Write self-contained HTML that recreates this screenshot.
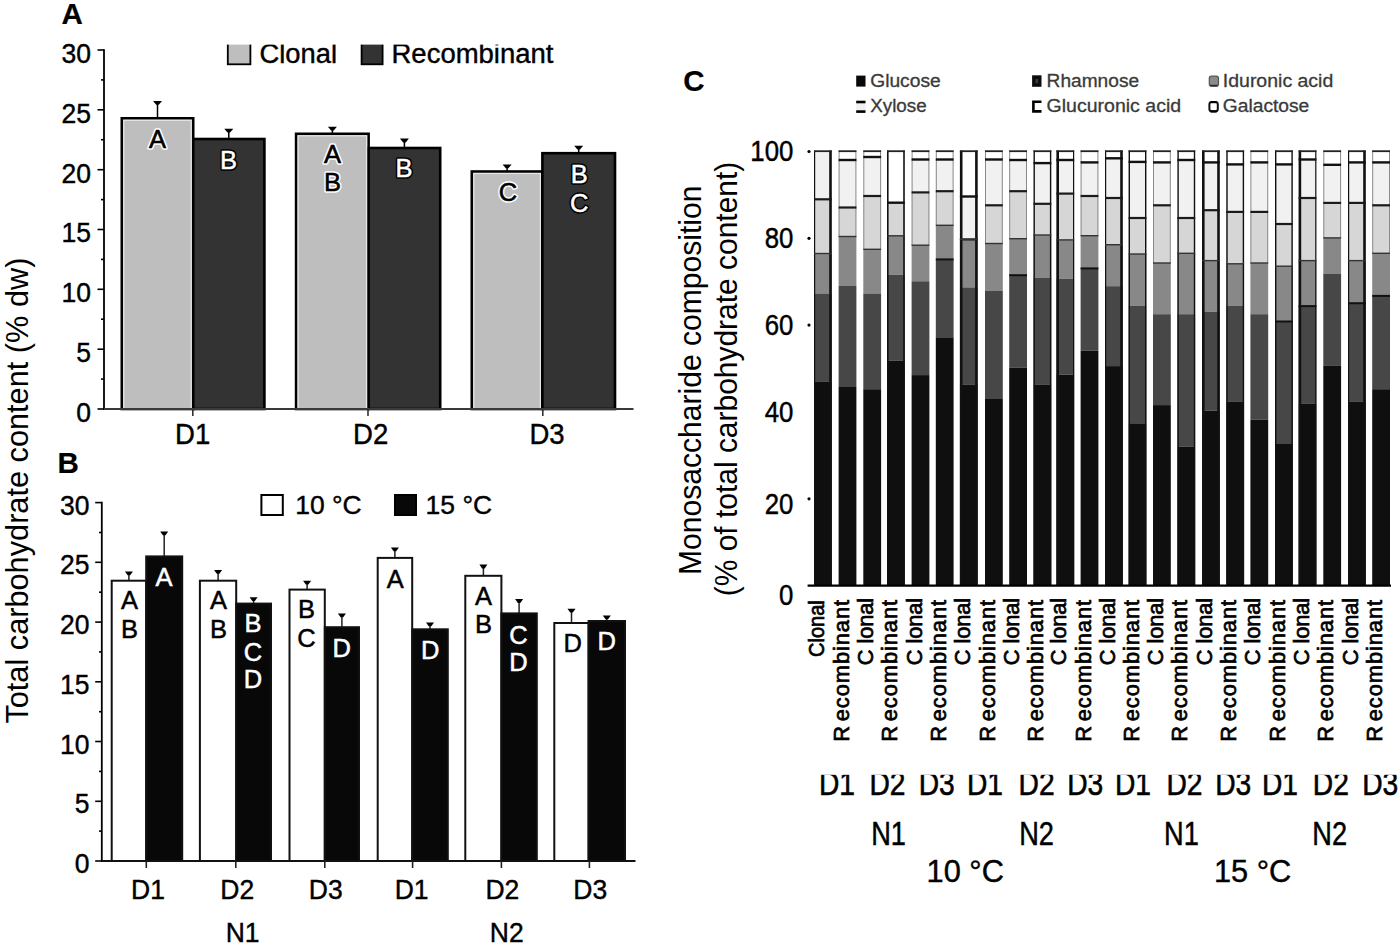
<!DOCTYPE html>
<html><head><meta charset="utf-8"><style>
html,body{margin:0;padding:0;background:#fff;}
svg{display:block;font-family:"Liberation Sans", sans-serif;}
text{font-family:"Liberation Sans", sans-serif;}
</style></head><body>
<svg width="1398" height="944" viewBox="0 0 1398 944">
<rect x="0" y="0" width="1398" height="944" fill="#fff"/>
<text x="61.6" y="24.2" font-size="29.5" text-anchor="start" font-weight="bold" fill="#000" stroke="#000" stroke-width="0.2" >A</text>
<line x1="104.0" y1="49.2" x2="104.0" y2="409.9" stroke="#000" stroke-width="1.8"/>
<line x1="97.5" y1="409.0" x2="104.0" y2="409.0" stroke="#000" stroke-width="1.6"/>
<text transform="translate(91.0,421.9) scale(1.0,1.06)" font-size="26.5" text-anchor="end" fill="#000" stroke="#000" stroke-width="0.4">0</text>
<line x1="101.0" y1="379.1" x2="104.0" y2="379.1" stroke="#000" stroke-width="1.6"/>
<line x1="97.5" y1="349.2" x2="104.0" y2="349.2" stroke="#000" stroke-width="1.6"/>
<text transform="translate(91.0,362.1) scale(1.0,1.06)" font-size="26.5" text-anchor="end" fill="#000" stroke="#000" stroke-width="0.4">5</text>
<line x1="101.0" y1="319.2" x2="104.0" y2="319.2" stroke="#000" stroke-width="1.6"/>
<line x1="97.5" y1="289.3" x2="104.0" y2="289.3" stroke="#000" stroke-width="1.6"/>
<text transform="translate(91.0,302.2) scale(1.0,1.06)" font-size="26.5" text-anchor="end" fill="#000" stroke="#000" stroke-width="0.4">10</text>
<line x1="101.0" y1="259.4" x2="104.0" y2="259.4" stroke="#000" stroke-width="1.6"/>
<line x1="97.5" y1="229.5" x2="104.0" y2="229.5" stroke="#000" stroke-width="1.6"/>
<text transform="translate(91.0,242.4) scale(1.0,1.06)" font-size="26.5" text-anchor="end" fill="#000" stroke="#000" stroke-width="0.4">15</text>
<line x1="101.0" y1="199.6" x2="104.0" y2="199.6" stroke="#000" stroke-width="1.6"/>
<line x1="97.5" y1="169.7" x2="104.0" y2="169.7" stroke="#000" stroke-width="1.6"/>
<text transform="translate(91.0,182.6) scale(1.0,1.06)" font-size="26.5" text-anchor="end" fill="#000" stroke="#000" stroke-width="0.4">20</text>
<line x1="101.0" y1="139.7" x2="104.0" y2="139.7" stroke="#000" stroke-width="1.6"/>
<line x1="97.5" y1="109.8" x2="104.0" y2="109.8" stroke="#000" stroke-width="1.6"/>
<text transform="translate(91.0,122.7) scale(1.0,1.06)" font-size="26.5" text-anchor="end" fill="#000" stroke="#000" stroke-width="0.4">25</text>
<line x1="101.0" y1="79.9" x2="104.0" y2="79.9" stroke="#000" stroke-width="1.6"/>
<line x1="97.5" y1="50.0" x2="104.0" y2="50.0" stroke="#000" stroke-width="1.6"/>
<text transform="translate(91.0,62.9) scale(1.0,1.06)" font-size="26.5" text-anchor="end" fill="#000" stroke="#000" stroke-width="0.4">30</text>
<line x1="157.5" y1="118.3" x2="157.5" y2="102.0" stroke="#000" stroke-width="1.5"/>
<polygon points="153.0,101.0 162.0,101.0 158.8,104.8 156.2,104.8" fill="#000"/>
<line x1="228.8" y1="139.0" x2="228.8" y2="129.7" stroke="#000" stroke-width="1.5"/>
<polygon points="224.3,128.7 233.3,128.7 230.1,132.5 227.5,132.5" fill="#000"/>
<line x1="332.4" y1="133.8" x2="332.4" y2="127.7" stroke="#000" stroke-width="1.5"/>
<polygon points="327.9,126.7 336.9,126.7 333.7,130.5 331.1,130.5" fill="#000"/>
<line x1="404.4" y1="148.0" x2="404.4" y2="139.6" stroke="#000" stroke-width="1.5"/>
<polygon points="399.9,138.6 408.9,138.6 405.7,142.4 403.1,142.4" fill="#000"/>
<line x1="507.1" y1="171.5" x2="507.1" y2="165.5" stroke="#000" stroke-width="1.5"/>
<polygon points="502.6,164.5 511.6,164.5 508.4,168.3 505.8,168.3" fill="#000"/>
<line x1="578.7" y1="153.2" x2="578.7" y2="146.7" stroke="#000" stroke-width="1.5"/>
<polygon points="574.2,145.7 583.2,145.7 580.0,149.5 577.4,149.5" fill="#000"/>
<rect x="121.8" y="118.3" width="71.4" height="290.7" fill="#bebebe" stroke="#000" stroke-width="2.6"/>
<rect x="193.2" y="139.0" width="71.2" height="270.0" fill="#333333" stroke="#000" stroke-width="2.6"/>
<rect x="296.1" y="133.8" width="72.5" height="275.2" fill="#bebebe" stroke="#000" stroke-width="2.6"/>
<rect x="368.6" y="148.0" width="71.6" height="261.0" fill="#333333" stroke="#000" stroke-width="2.6"/>
<rect x="471.8" y="171.5" width="70.6" height="237.5" fill="#bebebe" stroke="#000" stroke-width="2.6"/>
<rect x="542.4" y="153.2" width="72.6" height="255.8" fill="#333333" stroke="#000" stroke-width="2.6"/>
<rect x="123.8" y="120.3" width="67.4" height="287.7" fill="none" stroke="#e6e6e6" stroke-width="1.2"/>
<rect x="298.1" y="135.8" width="68.5" height="272.2" fill="none" stroke="#e6e6e6" stroke-width="1.2"/>
<rect x="473.8" y="173.5" width="66.6" height="234.5" fill="none" stroke="#e6e6e6" stroke-width="1.2"/>
<line x1="104.0" y1="409.0" x2="633.5" y2="409.0" stroke="#3a3a3a" stroke-width="1.8"/>
<line x1="192.8" y1="409.0" x2="192.8" y2="416.0" stroke="#333" stroke-width="1.6"/>
<line x1="368.0" y1="409.0" x2="368.0" y2="416.0" stroke="#333" stroke-width="1.6"/>
<line x1="542.8" y1="409.0" x2="542.8" y2="416.0" stroke="#333" stroke-width="1.6"/>
<text transform="translate(192.6,444.0) scale(1.0,1.05)" font-size="27.5" text-anchor="middle" fill="#000" stroke="#000" stroke-width="0.4">D1</text>
<text transform="translate(370.6,444.0) scale(1.0,1.05)" font-size="27.5" text-anchor="middle" fill="#000" stroke="#000" stroke-width="0.4">D2</text>
<text transform="translate(547.0,444.0) scale(1.0,1.05)" font-size="27.5" text-anchor="middle" fill="#000" stroke="#000" stroke-width="0.4">D3</text>
<text x="157.4" y="147.6" font-size="25.5" text-anchor="middle" fill="#fff" stroke="#fff" stroke-width="3.6" stroke-linejoin="round">A</text>
<text x="157.4" y="147.6" font-size="25.5" text-anchor="middle" fill="#000" stroke="#000" stroke-width="0.6">A</text>
<text x="228.6" y="169.2" font-size="25.5" text-anchor="middle" fill="#000" stroke="#000" stroke-width="3.6" stroke-linejoin="round">B</text>
<text x="228.6" y="169.2" font-size="25.5" text-anchor="middle" fill="#fff" stroke="#fff" stroke-width="0.5">B</text>
<text x="332.4" y="162.6" font-size="25.5" text-anchor="middle" fill="#fff" stroke="#fff" stroke-width="3.6" stroke-linejoin="round">A</text>
<text x="332.4" y="162.6" font-size="25.5" text-anchor="middle" fill="#000" stroke="#000" stroke-width="0.6">A</text>
<text x="332.4" y="191.2" font-size="25.5" text-anchor="middle" fill="#fff" stroke="#fff" stroke-width="3.6" stroke-linejoin="round">B</text>
<text x="332.4" y="191.2" font-size="25.5" text-anchor="middle" fill="#000" stroke="#000" stroke-width="0.6">B</text>
<text x="404.0" y="177.4" font-size="25.5" text-anchor="middle" fill="#000" stroke="#000" stroke-width="3.6" stroke-linejoin="round">B</text>
<text x="404.0" y="177.4" font-size="25.5" text-anchor="middle" fill="#fff" stroke="#fff" stroke-width="0.5">B</text>
<text x="508.0" y="200.6" font-size="25.5" text-anchor="middle" fill="#fff" stroke="#fff" stroke-width="3.6" stroke-linejoin="round">C</text>
<text x="508.0" y="200.6" font-size="25.5" text-anchor="middle" fill="#000" stroke="#000" stroke-width="0.6">C</text>
<text x="579.2" y="182.6" font-size="25.5" text-anchor="middle" fill="#000" stroke="#000" stroke-width="3.6" stroke-linejoin="round">B</text>
<text x="579.2" y="182.6" font-size="25.5" text-anchor="middle" fill="#fff" stroke="#fff" stroke-width="0.5">B</text>
<text x="579.2" y="212.4" font-size="25.5" text-anchor="middle" fill="#000" stroke="#000" stroke-width="3.6" stroke-linejoin="round">C</text>
<text x="579.2" y="212.4" font-size="25.5" text-anchor="middle" fill="#fff" stroke="#fff" stroke-width="0.5">C</text>
<rect x="227.8" y="42.0" width="22.6" height="22.3" fill="#bebebe" stroke="#000" stroke-width="1.8"/>
<rect x="361.6" y="42.0" width="21.0" height="22.3" fill="#333333" stroke="#000" stroke-width="1.8"/>
<text x="259.5" y="63.2" font-size="27" text-anchor="start" font-weight="normal" fill="#000" stroke="#000" stroke-width="0.4"  textLength="77.5" lengthAdjust="spacingAndGlyphs">Clonal</text>
<text x="391.5" y="63.2" font-size="27" text-anchor="start" font-weight="normal" fill="#000" stroke="#000" stroke-width="0.4"  textLength="162" lengthAdjust="spacingAndGlyphs">Recombinant</text>
<rect x="220.0" y="30.0" width="345.0" height="14.6" fill="#fff" stroke="none" stroke-width="0"/>
<text x="57.6" y="472.9" font-size="29.5" text-anchor="start" font-weight="bold" fill="#000" stroke="#000" stroke-width="0.2" >B</text>
<line x1="101.8" y1="501.8" x2="101.8" y2="861.9" stroke="#000" stroke-width="1.8"/>
<line x1="95.2" y1="861.0" x2="101.8" y2="861.0" stroke="#000" stroke-width="1.6"/>
<text transform="translate(89.4,873.0) scale(1.0,1.06)" font-size="26.5" text-anchor="end" fill="#000" stroke="#000" stroke-width="0.4">0</text>
<line x1="99.0" y1="831.1" x2="101.8" y2="831.1" stroke="#000" stroke-width="1.6"/>
<line x1="95.2" y1="801.3" x2="101.8" y2="801.3" stroke="#000" stroke-width="1.6"/>
<text transform="translate(89.4,813.3) scale(1.0,1.06)" font-size="26.5" text-anchor="end" fill="#000" stroke="#000" stroke-width="0.4">5</text>
<line x1="99.0" y1="771.4" x2="101.8" y2="771.4" stroke="#000" stroke-width="1.6"/>
<line x1="95.2" y1="741.5" x2="101.8" y2="741.5" stroke="#000" stroke-width="1.6"/>
<text transform="translate(89.4,753.5) scale(1.0,1.06)" font-size="26.5" text-anchor="end" fill="#000" stroke="#000" stroke-width="0.4">10</text>
<line x1="99.0" y1="711.7" x2="101.8" y2="711.7" stroke="#000" stroke-width="1.6"/>
<line x1="95.2" y1="681.8" x2="101.8" y2="681.8" stroke="#000" stroke-width="1.6"/>
<text transform="translate(89.4,693.8) scale(1.0,1.06)" font-size="26.5" text-anchor="end" fill="#000" stroke="#000" stroke-width="0.4">15</text>
<line x1="99.0" y1="651.9" x2="101.8" y2="651.9" stroke="#000" stroke-width="1.6"/>
<line x1="95.2" y1="622.1" x2="101.8" y2="622.1" stroke="#000" stroke-width="1.6"/>
<text transform="translate(89.4,634.1) scale(1.0,1.06)" font-size="26.5" text-anchor="end" fill="#000" stroke="#000" stroke-width="0.4">20</text>
<line x1="99.0" y1="592.2" x2="101.8" y2="592.2" stroke="#000" stroke-width="1.6"/>
<line x1="95.2" y1="562.3" x2="101.8" y2="562.3" stroke="#000" stroke-width="1.6"/>
<text transform="translate(89.4,574.3) scale(1.0,1.06)" font-size="26.5" text-anchor="end" fill="#000" stroke="#000" stroke-width="0.4">25</text>
<line x1="99.0" y1="532.5" x2="101.8" y2="532.5" stroke="#000" stroke-width="1.6"/>
<line x1="95.2" y1="502.6" x2="101.8" y2="502.6" stroke="#000" stroke-width="1.6"/>
<text transform="translate(89.4,514.6) scale(1.0,1.06)" font-size="26.5" text-anchor="end" fill="#000" stroke="#000" stroke-width="0.4">30</text>
<line x1="128.9" y1="580.7" x2="128.9" y2="572.5" stroke="#222" stroke-width="1.5"/>
<polygon points="124.9,571.5 132.9,571.5 130.2,575.3 127.6,575.3" fill="#000"/>
<line x1="164.2" y1="556.4" x2="164.2" y2="532.4" stroke="#222" stroke-width="1.5"/>
<polygon points="160.2,531.4 168.2,531.4 165.5,535.2 162.9,535.2" fill="#000"/>
<line x1="218.1" y1="580.7" x2="218.1" y2="571.0" stroke="#222" stroke-width="1.5"/>
<polygon points="214.1,570.0 222.1,570.0 219.4,573.8 216.8,573.8" fill="#000"/>
<line x1="253.6" y1="603.6" x2="253.6" y2="598.2" stroke="#222" stroke-width="1.5"/>
<polygon points="249.6,597.2 257.6,597.2 254.9,601.0 252.3,601.0" fill="#000"/>
<line x1="307.1" y1="589.6" x2="307.1" y2="581.8" stroke="#222" stroke-width="1.5"/>
<polygon points="303.1,580.8 311.1,580.8 308.4,584.6 305.8,584.6" fill="#000"/>
<line x1="341.9" y1="627.2" x2="341.9" y2="614.4" stroke="#222" stroke-width="1.5"/>
<polygon points="337.9,613.4 345.9,613.4 343.2,617.2 340.6,617.2" fill="#000"/>
<line x1="394.9" y1="557.9" x2="394.9" y2="548.5" stroke="#222" stroke-width="1.5"/>
<polygon points="390.9,547.5 398.9,547.5 396.2,551.3 393.6,551.3" fill="#000"/>
<line x1="430.0" y1="629.3" x2="430.0" y2="623.5" stroke="#222" stroke-width="1.5"/>
<polygon points="426.0,622.5 434.0,622.5 431.3,626.3 428.7,626.3" fill="#000"/>
<line x1="483.4" y1="575.8" x2="483.4" y2="565.6" stroke="#222" stroke-width="1.5"/>
<polygon points="479.4,564.6 487.4,564.6 484.7,568.4 482.1,568.4" fill="#000"/>
<line x1="519.1" y1="613.4" x2="519.1" y2="600.1" stroke="#222" stroke-width="1.5"/>
<polygon points="515.1,599.1 523.1,599.1 520.4,602.9 517.8,602.9" fill="#000"/>
<line x1="571.5" y1="623.0" x2="571.5" y2="609.7" stroke="#222" stroke-width="1.5"/>
<polygon points="567.5,608.7 575.5,608.7 572.8,612.5 570.2,612.5" fill="#000"/>
<line x1="606.8" y1="621.0" x2="606.8" y2="616.5" stroke="#222" stroke-width="1.5"/>
<polygon points="602.8,615.5 610.8,615.5 608.1,619.3 605.5,619.3" fill="#000"/>
<rect x="111.7" y="580.7" width="34.5" height="280.3" fill="#fff" stroke="#111" stroke-width="2.0"/>
<rect x="146.2" y="556.4" width="36.0" height="304.6" fill="#080808" stroke="#111" stroke-width="2.0"/>
<rect x="199.9" y="580.7" width="36.3" height="280.3" fill="#fff" stroke="#111" stroke-width="2.0"/>
<rect x="236.2" y="603.6" width="34.8" height="257.4" fill="#080808" stroke="#111" stroke-width="2.0"/>
<rect x="289.5" y="589.6" width="35.3" height="271.4" fill="#fff" stroke="#111" stroke-width="2.0"/>
<rect x="324.8" y="627.2" width="34.2" height="233.8" fill="#080808" stroke="#111" stroke-width="2.0"/>
<rect x="377.7" y="557.9" width="34.5" height="303.1" fill="#fff" stroke="#111" stroke-width="2.0"/>
<rect x="412.2" y="629.3" width="35.6" height="231.7" fill="#080808" stroke="#111" stroke-width="2.0"/>
<rect x="465.3" y="575.8" width="36.1" height="285.2" fill="#fff" stroke="#111" stroke-width="2.0"/>
<rect x="501.4" y="613.4" width="35.4" height="247.6" fill="#080808" stroke="#111" stroke-width="2.0"/>
<rect x="554.3" y="623.0" width="34.3" height="238.0" fill="#fff" stroke="#111" stroke-width="2.0"/>
<rect x="588.6" y="621.0" width="36.4" height="240.0" fill="#080808" stroke="#111" stroke-width="2.0"/>
<line x1="101.8" y1="861.0" x2="635.5" y2="861.0" stroke="#111" stroke-width="1.9"/>
<line x1="146.3" y1="861.0" x2="146.3" y2="868.0" stroke="#222" stroke-width="1.6"/>
<line x1="235.8" y1="861.0" x2="235.8" y2="868.0" stroke="#222" stroke-width="1.6"/>
<line x1="324.8" y1="861.0" x2="324.8" y2="868.0" stroke="#222" stroke-width="1.6"/>
<line x1="412.6" y1="861.0" x2="412.6" y2="868.0" stroke="#222" stroke-width="1.6"/>
<line x1="501.4" y1="861.0" x2="501.4" y2="868.0" stroke="#222" stroke-width="1.6"/>
<line x1="589.4" y1="861.0" x2="589.4" y2="868.0" stroke="#222" stroke-width="1.6"/>
<text transform="translate(148.0,899.2) scale(1.0,1.05)" font-size="26.5" text-anchor="middle" fill="#000" stroke="#000" stroke-width="0.4">D1</text>
<text transform="translate(237.2,899.2) scale(1.0,1.05)" font-size="26.5" text-anchor="middle" fill="#000" stroke="#000" stroke-width="0.4">D2</text>
<text transform="translate(325.8,899.2) scale(1.0,1.05)" font-size="26.5" text-anchor="middle" fill="#000" stroke="#000" stroke-width="0.4">D3</text>
<text transform="translate(411.6,899.2) scale(1.0,1.05)" font-size="26.5" text-anchor="middle" fill="#000" stroke="#000" stroke-width="0.4">D1</text>
<text transform="translate(502.4,899.2) scale(1.0,1.05)" font-size="26.5" text-anchor="middle" fill="#000" stroke="#000" stroke-width="0.4">D2</text>
<text transform="translate(590.2,899.2) scale(1.0,1.05)" font-size="26.5" text-anchor="middle" fill="#000" stroke="#000" stroke-width="0.4">D3</text>
<text transform="translate(242.6,941.8) scale(1.0,1.05)" font-size="26.5" text-anchor="middle" fill="#000" stroke="#000" stroke-width="0.4">N1</text>
<text transform="translate(506.8,941.8) scale(1.0,1.05)" font-size="26.5" text-anchor="middle" fill="#000" stroke="#000" stroke-width="0.4">N2</text>
<text x="129.6" y="608.8" font-size="25.5" text-anchor="middle" fill="#000" stroke="#000" stroke-width="0.5">A</text>
<text x="129.6" y="637.6" font-size="25.5" text-anchor="middle" fill="#000" stroke="#000" stroke-width="0.5">B</text>
<text x="164.0" y="585.8" font-size="25.5" text-anchor="middle" fill="#fff" stroke="#fff" stroke-width="0.5">A</text>
<text x="218.4" y="608.8" font-size="25.5" text-anchor="middle" fill="#000" stroke="#000" stroke-width="0.5">A</text>
<text x="218.4" y="637.6" font-size="25.5" text-anchor="middle" fill="#000" stroke="#000" stroke-width="0.5">B</text>
<text x="253.0" y="631.8" font-size="25.5" text-anchor="middle" fill="#fff" stroke="#fff" stroke-width="0.5">B</text>
<text x="253.0" y="661.4" font-size="25.5" text-anchor="middle" fill="#fff" stroke="#fff" stroke-width="0.5">C</text>
<text x="253.0" y="688.2" font-size="25.5" text-anchor="middle" fill="#fff" stroke="#fff" stroke-width="0.5">D</text>
<text x="306.4" y="618.4" font-size="25.5" text-anchor="middle" fill="#000" stroke="#000" stroke-width="0.5">B</text>
<text x="306.4" y="647.2" font-size="25.5" text-anchor="middle" fill="#000" stroke="#000" stroke-width="0.5">C</text>
<text x="341.6" y="656.6" font-size="25.5" text-anchor="middle" fill="#fff" stroke="#fff" stroke-width="0.5">D</text>
<text x="395.2" y="587.6" font-size="25.5" text-anchor="middle" fill="#000" stroke="#000" stroke-width="0.5">A</text>
<text x="430.2" y="659.0" font-size="25.5" text-anchor="middle" fill="#fff" stroke="#fff" stroke-width="0.5">D</text>
<text x="483.6" y="604.8" font-size="25.5" text-anchor="middle" fill="#000" stroke="#000" stroke-width="0.5">A</text>
<text x="483.6" y="633.4" font-size="25.5" text-anchor="middle" fill="#000" stroke="#000" stroke-width="0.5">B</text>
<text x="518.4" y="644.2" font-size="25.5" text-anchor="middle" fill="#fff" stroke="#fff" stroke-width="0.5">C</text>
<text x="518.4" y="670.6" font-size="25.5" text-anchor="middle" fill="#fff" stroke="#fff" stroke-width="0.5">D</text>
<text x="572.8" y="651.6" font-size="25.5" text-anchor="middle" fill="#000" stroke="#000" stroke-width="0.5">D</text>
<text x="606.6" y="650.0" font-size="25.5" text-anchor="middle" fill="#fff" stroke="#fff" stroke-width="0.5">D</text>
<rect x="261.4" y="495.0" width="21.4" height="20.0" fill="#fff" stroke="#000" stroke-width="2.0"/>
<rect x="395.0" y="495.0" width="21.0" height="20.0" fill="#080808" stroke="#000" stroke-width="2.0"/>
<text x="295.2" y="514.2" font-size="26" text-anchor="start" font-weight="normal" fill="#000" stroke="#000" stroke-width="0.4"  textLength="66.5" lengthAdjust="spacingAndGlyphs">10 °C</text>
<text x="425.6" y="514.2" font-size="26" text-anchor="start" font-weight="normal" fill="#000" stroke="#000" stroke-width="0.4"  textLength="66.5" lengthAdjust="spacingAndGlyphs">15 °C</text>
<text transform="translate(27.9,490.6) rotate(-90)" font-size="31.5" text-anchor="middle" textLength="466" lengthAdjust="spacingAndGlyphs">Total carbohydrate content (% dw)</text>
<text x="683.2" y="90.6" font-size="29.5" text-anchor="start" font-weight="bold" fill="#000" stroke="#000" stroke-width="0.2" >C</text>
<rect x="856.2" y="75.6" width="9.3" height="11.0" fill="#080808" stroke="none" stroke-width="0"/>
<text x="870.2" y="86.8" font-size="17.5" text-anchor="start" font-weight="normal" fill="#3a3a3a" stroke="#3a3a3a" stroke-width="0.3"  textLength="70.5" lengthAdjust="spacingAndGlyphs">Glucose</text>
<rect x="1032.1" y="75.3" width="9.4" height="11.5" fill="#0c0c0c" stroke="none" stroke-width="0"/>
<rect x="1035.5" y="79.0" width="2.6" height="4.2" fill="#3c3c3c" stroke="none" stroke-width="0"/>
<text x="1046.6" y="86.8" font-size="17.5" text-anchor="start" font-weight="normal" fill="#3a3a3a" stroke="#3a3a3a" stroke-width="0.3"  textLength="92.5" lengthAdjust="spacingAndGlyphs">Rhamnose</text>
<rect x="1209.3" y="76.2" width="9.2" height="10.0" rx="2.2" fill="#8a8a8a" stroke="#555" stroke-width="1.2"/>
<line x1="1210.0" y1="85.6" x2="1217.8" y2="85.6" stroke="#2a2a2a" stroke-width="1.6"/>
<text x="1222.8" y="86.8" font-size="17.5" text-anchor="start" font-weight="normal" fill="#3a3a3a" stroke="#3a3a3a" stroke-width="0.3"  textLength="110.5" lengthAdjust="spacingAndGlyphs">Iduronic acid</text>
<rect x="856.2" y="101.7" width="9.3" height="10.4" fill="#f0f0f0" stroke="none" stroke-width="0"/>
<line x1="856.2" y1="102.0" x2="865.5" y2="102.0" stroke="#000" stroke-width="2.6"/>
<line x1="856.2" y1="111.6" x2="865.5" y2="111.6" stroke="#000" stroke-width="2.6"/>
<text x="870.2" y="112.0" font-size="17.5" text-anchor="start" font-weight="normal" fill="#3a3a3a" stroke="#3a3a3a" stroke-width="0.3"  textLength="56.5" lengthAdjust="spacingAndGlyphs">Xylose</text>
<path d="M1041.5,101.8 H1033.4 V111.4 H1041.5" fill="none" stroke="#000" stroke-width="2.6"/>
<text x="1046.6" y="112.0" font-size="17.5" text-anchor="start" font-weight="normal" fill="#3a3a3a" stroke="#3a3a3a" stroke-width="0.3"  textLength="134.5" lengthAdjust="spacingAndGlyphs">Glucuronic acid</text>
<rect x="1209.4" y="102.0" width="8.4" height="9.4" rx="2.4" fill="#fff" stroke="#111" stroke-width="2.0"/>
<line x1="1210.6" y1="102.1" x2="1216.6" y2="102.1" stroke="#000" stroke-width="2.2"/>
<line x1="1210.6" y1="111.3" x2="1216.6" y2="111.3" stroke="#000" stroke-width="2.2"/>
<text x="1222.8" y="112.0" font-size="17.5" text-anchor="start" font-weight="normal" fill="#3a3a3a" stroke="#3a3a3a" stroke-width="0.3"  textLength="86.5" lengthAdjust="spacingAndGlyphs">Galactose</text>
<text transform="translate(793.4,604.6) scale(1.0,1.12)" font-size="25.8" text-anchor="end" fill="#000" stroke="#000" stroke-width="0.4">0</text>
<circle cx="809.0" cy="498.8" r="1.6" fill="#000"/>
<text transform="translate(793.4,514.0) scale(1.0,1.12)" font-size="25.8" text-anchor="end" fill="#000" stroke="#000" stroke-width="0.4">20</text>
<text transform="translate(793.4,422.2) scale(1.0,1.12)" font-size="25.8" text-anchor="end" fill="#000" stroke="#000" stroke-width="0.4">40</text>
<circle cx="809.0" cy="325.1" r="1.6" fill="#000"/>
<text transform="translate(793.4,335.2) scale(1.0,1.12)" font-size="25.8" text-anchor="end" fill="#000" stroke="#000" stroke-width="0.4">60</text>
<circle cx="809.0" cy="238.3" r="1.6" fill="#000"/>
<text transform="translate(793.4,248.2) scale(1.0,1.12)" font-size="25.8" text-anchor="end" fill="#000" stroke="#000" stroke-width="0.4">80</text>
<circle cx="809.0" cy="151.5" r="1.6" fill="#000"/>
<text transform="translate(793.4,161.2) scale(1.0,1.12)" font-size="25.8" text-anchor="end" fill="#000" stroke="#000" stroke-width="0.4">100</text>
<text transform="translate(701.3,380.3) rotate(-90)" font-size="31" text-anchor="middle" textLength="389.5" lengthAdjust="spacingAndGlyphs">Monosaccharide composition</text>
<text transform="translate(736.6,379.0) rotate(-90)" font-size="31" text-anchor="middle" textLength="434.5" lengthAdjust="spacingAndGlyphs">(% of total carbohydrate content)</text>
<rect x="814.0" y="150.5" width="17.8" height="2.0" fill="#ffffff" stroke="none" stroke-width="0"/>
<rect x="814.0" y="152.5" width="17.8" height="46.8" fill="#f1f1f1" stroke="none" stroke-width="0"/>
<rect x="814.0" y="199.3" width="17.8" height="54.2" fill="#d6d6d6" stroke="none" stroke-width="0"/>
<rect x="814.0" y="253.5" width="17.8" height="40.0" fill="#888888" stroke="none" stroke-width="0"/>
<rect x="814.0" y="293.5" width="17.8" height="88.4" fill="#474747" stroke="none" stroke-width="0"/>
<rect x="814.0" y="381.9" width="17.8" height="203.7" fill="#0f0f0f" stroke="none" stroke-width="0"/>
<line x1="814.6" y1="150.5" x2="814.6" y2="585.6" stroke="#111" stroke-width="1.2"/>
<line x1="830.5" y1="150.5" x2="830.5" y2="585.6" stroke="#111" stroke-width="2.6"/>
<line x1="814.0" y1="151.2" x2="831.8" y2="151.2" stroke="#222" stroke-width="1.8"/>
<line x1="814.0" y1="199.3" x2="831.8" y2="199.3" stroke="#1a1a1a" stroke-width="2.2"/>
<line x1="814.0" y1="253.5" x2="831.8" y2="253.5" stroke="#333" stroke-width="1.4"/>
<rect x="838.6" y="150.5" width="17.8" height="9.5" fill="#ffffff" stroke="none" stroke-width="0"/>
<rect x="838.6" y="160.0" width="17.8" height="47.5" fill="#f1f1f1" stroke="none" stroke-width="0"/>
<rect x="838.6" y="207.5" width="17.8" height="29.0" fill="#d6d6d6" stroke="none" stroke-width="0"/>
<rect x="838.6" y="236.5" width="17.8" height="49.5" fill="#888888" stroke="none" stroke-width="0"/>
<rect x="838.6" y="286.0" width="17.8" height="100.3" fill="#474747" stroke="none" stroke-width="0"/>
<rect x="838.6" y="386.3" width="17.8" height="199.3" fill="#0f0f0f" stroke="none" stroke-width="0"/>
<line x1="839.1" y1="150.5" x2="839.1" y2="236.5" stroke="#8a8a8a" stroke-width="1.0"/>
<line x1="855.9" y1="150.5" x2="855.9" y2="236.5" stroke="#8a8a8a" stroke-width="1.0"/>
<line x1="838.6" y1="151.2" x2="856.4" y2="151.2" stroke="#222" stroke-width="1.8"/>
<line x1="838.6" y1="160.0" x2="856.4" y2="160.0" stroke="#111" stroke-width="2.4"/>
<line x1="838.6" y1="207.5" x2="856.4" y2="207.5" stroke="#1a1a1a" stroke-width="2.2"/>
<line x1="838.6" y1="236.5" x2="856.4" y2="236.5" stroke="#333" stroke-width="1.4"/>
<rect x="863.3" y="150.5" width="17.8" height="6.5" fill="#ffffff" stroke="none" stroke-width="0"/>
<rect x="863.3" y="157.0" width="17.8" height="39.0" fill="#f1f1f1" stroke="none" stroke-width="0"/>
<rect x="863.3" y="196.0" width="17.8" height="53.3" fill="#d6d6d6" stroke="none" stroke-width="0"/>
<rect x="863.3" y="249.3" width="17.8" height="44.2" fill="#888888" stroke="none" stroke-width="0"/>
<rect x="863.3" y="293.5" width="17.8" height="95.7" fill="#474747" stroke="none" stroke-width="0"/>
<rect x="863.3" y="389.2" width="17.8" height="196.4" fill="#0f0f0f" stroke="none" stroke-width="0"/>
<line x1="863.8" y1="150.5" x2="863.8" y2="249.3" stroke="#8a8a8a" stroke-width="1.0"/>
<line x1="880.6" y1="150.5" x2="880.6" y2="249.3" stroke="#8a8a8a" stroke-width="1.0"/>
<line x1="863.3" y1="151.2" x2="881.1" y2="151.2" stroke="#222" stroke-width="1.8"/>
<line x1="863.3" y1="157.0" x2="881.1" y2="157.0" stroke="#111" stroke-width="2.4"/>
<line x1="863.3" y1="196.0" x2="881.1" y2="196.0" stroke="#1a1a1a" stroke-width="2.2"/>
<line x1="863.3" y1="249.3" x2="881.1" y2="249.3" stroke="#333" stroke-width="1.4"/>
<rect x="887.0" y="150.5" width="17.8" height="52.2" fill="#ffffff" stroke="none" stroke-width="0"/>
<rect x="887.0" y="202.7" width="17.8" height="33.1" fill="#d6d6d6" stroke="none" stroke-width="0"/>
<rect x="887.0" y="235.8" width="17.8" height="38.9" fill="#888888" stroke="none" stroke-width="0"/>
<rect x="887.0" y="274.7" width="17.8" height="85.8" fill="#474747" stroke="none" stroke-width="0"/>
<rect x="887.0" y="360.5" width="17.8" height="225.1" fill="#0f0f0f" stroke="none" stroke-width="0"/>
<line x1="887.8" y1="150.5" x2="887.8" y2="585.6" stroke="#111" stroke-width="1.6"/>
<line x1="904.0" y1="150.5" x2="904.0" y2="585.6" stroke="#111" stroke-width="1.6"/>
<line x1="887.0" y1="151.2" x2="904.8" y2="151.2" stroke="#222" stroke-width="1.8"/>
<line x1="887.0" y1="202.7" x2="904.8" y2="202.7" stroke="#111" stroke-width="2.4"/>
<line x1="887.0" y1="235.8" x2="904.8" y2="235.8" stroke="#333" stroke-width="1.4"/>
<rect x="911.6" y="150.5" width="17.8" height="9.0" fill="#ffffff" stroke="none" stroke-width="0"/>
<rect x="911.6" y="159.5" width="17.8" height="32.9" fill="#f1f1f1" stroke="none" stroke-width="0"/>
<rect x="911.6" y="192.4" width="17.8" height="52.8" fill="#d6d6d6" stroke="none" stroke-width="0"/>
<rect x="911.6" y="245.2" width="17.8" height="36.1" fill="#888888" stroke="none" stroke-width="0"/>
<rect x="911.6" y="281.3" width="17.8" height="93.8" fill="#474747" stroke="none" stroke-width="0"/>
<rect x="911.6" y="375.1" width="17.8" height="210.5" fill="#0f0f0f" stroke="none" stroke-width="0"/>
<line x1="912.1" y1="150.5" x2="912.1" y2="245.2" stroke="#8a8a8a" stroke-width="1.0"/>
<line x1="928.9" y1="150.5" x2="928.9" y2="245.2" stroke="#8a8a8a" stroke-width="1.0"/>
<line x1="911.6" y1="151.2" x2="929.4" y2="151.2" stroke="#222" stroke-width="1.8"/>
<line x1="911.6" y1="159.5" x2="929.4" y2="159.5" stroke="#111" stroke-width="2.4"/>
<line x1="911.6" y1="192.4" x2="929.4" y2="192.4" stroke="#1a1a1a" stroke-width="2.2"/>
<line x1="911.6" y1="245.2" x2="929.4" y2="245.2" stroke="#333" stroke-width="1.4"/>
<rect x="935.8" y="150.5" width="17.8" height="9.0" fill="#ffffff" stroke="none" stroke-width="0"/>
<rect x="935.8" y="159.5" width="17.8" height="31.7" fill="#f1f1f1" stroke="none" stroke-width="0"/>
<rect x="935.8" y="191.2" width="17.8" height="34.1" fill="#d6d6d6" stroke="none" stroke-width="0"/>
<rect x="935.8" y="225.3" width="17.8" height="34.1" fill="#888888" stroke="none" stroke-width="0"/>
<rect x="935.8" y="259.4" width="17.8" height="77.9" fill="#474747" stroke="none" stroke-width="0"/>
<rect x="935.8" y="337.3" width="17.8" height="248.3" fill="#0f0f0f" stroke="none" stroke-width="0"/>
<line x1="936.3" y1="150.5" x2="936.3" y2="225.3" stroke="#8a8a8a" stroke-width="1.0"/>
<line x1="953.1" y1="150.5" x2="953.1" y2="225.3" stroke="#8a8a8a" stroke-width="1.0"/>
<line x1="935.8" y1="259.4" x2="953.6" y2="259.4" stroke="#111" stroke-width="2.0"/>
<line x1="935.8" y1="151.2" x2="953.6" y2="151.2" stroke="#222" stroke-width="1.8"/>
<line x1="935.8" y1="159.5" x2="953.6" y2="159.5" stroke="#111" stroke-width="2.4"/>
<line x1="935.8" y1="191.2" x2="953.6" y2="191.2" stroke="#1a1a1a" stroke-width="2.2"/>
<line x1="935.8" y1="225.3" x2="953.6" y2="225.3" stroke="#333" stroke-width="1.4"/>
<rect x="959.9" y="150.5" width="17.8" height="46.0" fill="#ffffff" stroke="none" stroke-width="0"/>
<rect x="959.9" y="196.5" width="17.8" height="42.9" fill="#f1f1f1" stroke="none" stroke-width="0"/>
<rect x="959.9" y="239.4" width="17.8" height="48.0" fill="#888888" stroke="none" stroke-width="0"/>
<rect x="959.9" y="287.4" width="17.8" height="97.0" fill="#474747" stroke="none" stroke-width="0"/>
<rect x="959.9" y="384.4" width="17.8" height="201.2" fill="#0f0f0f" stroke="none" stroke-width="0"/>
<line x1="961.2" y1="150.5" x2="961.2" y2="585.6" stroke="#111" stroke-width="2.6"/>
<line x1="976.4" y1="150.5" x2="976.4" y2="585.6" stroke="#111" stroke-width="2.6"/>
<line x1="959.9" y1="151.2" x2="977.7" y2="151.2" stroke="#222" stroke-width="1.8"/>
<line x1="959.9" y1="196.5" x2="977.7" y2="196.5" stroke="#111" stroke-width="2.4"/>
<line x1="959.9" y1="239.4" x2="977.7" y2="239.4" stroke="#1a1a1a" stroke-width="2.2"/>
<line x1="959.9" y1="239.4" x2="977.7" y2="239.4" stroke="#333" stroke-width="1.4"/>
<rect x="985.0" y="150.5" width="17.8" height="9.0" fill="#ffffff" stroke="none" stroke-width="0"/>
<rect x="985.0" y="159.5" width="17.8" height="45.8" fill="#f1f1f1" stroke="none" stroke-width="0"/>
<rect x="985.0" y="205.3" width="17.8" height="38.2" fill="#d6d6d6" stroke="none" stroke-width="0"/>
<rect x="985.0" y="243.5" width="17.8" height="47.5" fill="#888888" stroke="none" stroke-width="0"/>
<rect x="985.0" y="291.0" width="17.8" height="108.0" fill="#474747" stroke="none" stroke-width="0"/>
<rect x="985.0" y="399.0" width="17.8" height="186.6" fill="#0f0f0f" stroke="none" stroke-width="0"/>
<line x1="985.5" y1="150.5" x2="985.5" y2="243.5" stroke="#8a8a8a" stroke-width="1.0"/>
<line x1="1002.3" y1="150.5" x2="1002.3" y2="243.5" stroke="#8a8a8a" stroke-width="1.0"/>
<line x1="985.0" y1="151.2" x2="1002.8" y2="151.2" stroke="#222" stroke-width="1.8"/>
<line x1="985.0" y1="159.5" x2="1002.8" y2="159.5" stroke="#111" stroke-width="2.4"/>
<line x1="985.0" y1="205.3" x2="1002.8" y2="205.3" stroke="#1a1a1a" stroke-width="2.2"/>
<line x1="985.0" y1="243.5" x2="1002.8" y2="243.5" stroke="#333" stroke-width="1.4"/>
<rect x="1009.2" y="150.5" width="17.8" height="9.5" fill="#ffffff" stroke="none" stroke-width="0"/>
<rect x="1009.2" y="160.0" width="17.8" height="31.2" fill="#f1f1f1" stroke="none" stroke-width="0"/>
<rect x="1009.2" y="191.2" width="17.8" height="47.5" fill="#d6d6d6" stroke="none" stroke-width="0"/>
<rect x="1009.2" y="238.7" width="17.8" height="36.5" fill="#888888" stroke="none" stroke-width="0"/>
<rect x="1009.2" y="275.2" width="17.8" height="92.6" fill="#474747" stroke="none" stroke-width="0"/>
<rect x="1009.2" y="367.8" width="17.8" height="217.8" fill="#0f0f0f" stroke="none" stroke-width="0"/>
<line x1="1009.7" y1="150.5" x2="1009.7" y2="238.7" stroke="#8a8a8a" stroke-width="1.0"/>
<line x1="1026.5" y1="150.5" x2="1026.5" y2="238.7" stroke="#8a8a8a" stroke-width="1.0"/>
<line x1="1009.2" y1="275.2" x2="1027.0" y2="275.2" stroke="#111" stroke-width="2.0"/>
<line x1="1009.2" y1="151.2" x2="1027.0" y2="151.2" stroke="#222" stroke-width="1.8"/>
<line x1="1009.2" y1="160.0" x2="1027.0" y2="160.0" stroke="#111" stroke-width="2.4"/>
<line x1="1009.2" y1="191.2" x2="1027.0" y2="191.2" stroke="#1a1a1a" stroke-width="2.2"/>
<line x1="1009.2" y1="238.7" x2="1027.0" y2="238.7" stroke="#333" stroke-width="1.4"/>
<rect x="1033.5" y="150.5" width="17.8" height="12.6" fill="#ffffff" stroke="none" stroke-width="0"/>
<rect x="1033.5" y="163.1" width="17.8" height="40.7" fill="#f1f1f1" stroke="none" stroke-width="0"/>
<rect x="1033.5" y="203.8" width="17.8" height="31.2" fill="#d6d6d6" stroke="none" stroke-width="0"/>
<rect x="1033.5" y="235.0" width="17.8" height="42.6" fill="#888888" stroke="none" stroke-width="0"/>
<rect x="1033.5" y="277.6" width="17.8" height="106.8" fill="#474747" stroke="none" stroke-width="0"/>
<rect x="1033.5" y="384.4" width="17.8" height="201.2" fill="#0f0f0f" stroke="none" stroke-width="0"/>
<line x1="1034.2" y1="150.5" x2="1034.2" y2="585.6" stroke="#111" stroke-width="1.4"/>
<line x1="1050.6" y1="150.5" x2="1050.6" y2="585.6" stroke="#111" stroke-width="1.4"/>
<line x1="1033.5" y1="151.2" x2="1051.3" y2="151.2" stroke="#222" stroke-width="1.8"/>
<line x1="1033.5" y1="163.1" x2="1051.3" y2="163.1" stroke="#111" stroke-width="2.4"/>
<line x1="1033.5" y1="203.8" x2="1051.3" y2="203.8" stroke="#1a1a1a" stroke-width="2.2"/>
<line x1="1033.5" y1="235.0" x2="1051.3" y2="235.0" stroke="#333" stroke-width="1.4"/>
<rect x="1056.4" y="150.5" width="17.8" height="9.5" fill="#ffffff" stroke="none" stroke-width="0"/>
<rect x="1056.4" y="160.0" width="17.8" height="33.6" fill="#f1f1f1" stroke="none" stroke-width="0"/>
<rect x="1056.4" y="193.6" width="17.8" height="46.3" fill="#d6d6d6" stroke="none" stroke-width="0"/>
<rect x="1056.4" y="239.9" width="17.8" height="39.0" fill="#888888" stroke="none" stroke-width="0"/>
<rect x="1056.4" y="278.9" width="17.8" height="95.7" fill="#474747" stroke="none" stroke-width="0"/>
<rect x="1056.4" y="374.6" width="17.8" height="211.0" fill="#0f0f0f" stroke="none" stroke-width="0"/>
<line x1="1057.7" y1="150.5" x2="1057.7" y2="585.6" stroke="#111" stroke-width="2.6"/>
<line x1="1073.6" y1="150.5" x2="1073.6" y2="585.6" stroke="#111" stroke-width="1.2"/>
<line x1="1056.4" y1="151.2" x2="1074.2" y2="151.2" stroke="#222" stroke-width="1.8"/>
<line x1="1056.4" y1="160.0" x2="1074.2" y2="160.0" stroke="#111" stroke-width="2.4"/>
<line x1="1056.4" y1="193.6" x2="1074.2" y2="193.6" stroke="#1a1a1a" stroke-width="2.2"/>
<line x1="1056.4" y1="239.9" x2="1074.2" y2="239.9" stroke="#333" stroke-width="1.4"/>
<rect x="1080.6" y="150.5" width="17.8" height="11.9" fill="#ffffff" stroke="none" stroke-width="0"/>
<rect x="1080.6" y="162.4" width="17.8" height="33.6" fill="#f1f1f1" stroke="none" stroke-width="0"/>
<rect x="1080.6" y="196.0" width="17.8" height="39.7" fill="#d6d6d6" stroke="none" stroke-width="0"/>
<rect x="1080.6" y="235.7" width="17.8" height="32.7" fill="#888888" stroke="none" stroke-width="0"/>
<rect x="1080.6" y="268.4" width="17.8" height="82.3" fill="#474747" stroke="none" stroke-width="0"/>
<rect x="1080.6" y="350.7" width="17.8" height="234.9" fill="#0f0f0f" stroke="none" stroke-width="0"/>
<line x1="1081.1" y1="150.5" x2="1081.1" y2="235.7" stroke="#8a8a8a" stroke-width="1.0"/>
<line x1="1097.9" y1="150.5" x2="1097.9" y2="235.7" stroke="#8a8a8a" stroke-width="1.0"/>
<line x1="1080.6" y1="268.4" x2="1098.4" y2="268.4" stroke="#111" stroke-width="2.0"/>
<line x1="1080.6" y1="151.2" x2="1098.4" y2="151.2" stroke="#222" stroke-width="1.8"/>
<line x1="1080.6" y1="162.4" x2="1098.4" y2="162.4" stroke="#111" stroke-width="2.4"/>
<line x1="1080.6" y1="196.0" x2="1098.4" y2="196.0" stroke="#1a1a1a" stroke-width="2.2"/>
<line x1="1080.6" y1="235.7" x2="1098.4" y2="235.7" stroke="#333" stroke-width="1.4"/>
<rect x="1105.0" y="150.5" width="17.8" height="7.8" fill="#ffffff" stroke="none" stroke-width="0"/>
<rect x="1105.0" y="158.3" width="17.8" height="39.7" fill="#f1f1f1" stroke="none" stroke-width="0"/>
<rect x="1105.0" y="198.0" width="17.8" height="46.7" fill="#d6d6d6" stroke="none" stroke-width="0"/>
<rect x="1105.0" y="244.7" width="17.8" height="41.5" fill="#888888" stroke="none" stroke-width="0"/>
<rect x="1105.0" y="286.2" width="17.8" height="79.9" fill="#474747" stroke="none" stroke-width="0"/>
<rect x="1105.0" y="366.1" width="17.8" height="219.5" fill="#0f0f0f" stroke="none" stroke-width="0"/>
<line x1="1105.6" y1="150.5" x2="1105.6" y2="585.6" stroke="#111" stroke-width="1.2"/>
<line x1="1121.5" y1="150.5" x2="1121.5" y2="585.6" stroke="#111" stroke-width="2.6"/>
<line x1="1105.0" y1="151.2" x2="1122.8" y2="151.2" stroke="#222" stroke-width="1.8"/>
<line x1="1105.0" y1="158.3" x2="1122.8" y2="158.3" stroke="#111" stroke-width="2.4"/>
<line x1="1105.0" y1="198.0" x2="1122.8" y2="198.0" stroke="#1a1a1a" stroke-width="2.2"/>
<line x1="1105.0" y1="244.7" x2="1122.8" y2="244.7" stroke="#333" stroke-width="1.4"/>
<rect x="1128.6" y="150.5" width="17.8" height="11.4" fill="#ffffff" stroke="none" stroke-width="0"/>
<rect x="1128.6" y="161.9" width="17.8" height="56.1" fill="#f1f1f1" stroke="none" stroke-width="0"/>
<rect x="1128.6" y="218.0" width="17.8" height="36.0" fill="#d6d6d6" stroke="none" stroke-width="0"/>
<rect x="1128.6" y="254.0" width="17.8" height="51.6" fill="#888888" stroke="none" stroke-width="0"/>
<rect x="1128.6" y="305.6" width="17.8" height="117.7" fill="#474747" stroke="none" stroke-width="0"/>
<rect x="1128.6" y="423.3" width="17.8" height="162.3" fill="#0f0f0f" stroke="none" stroke-width="0"/>
<line x1="1129.3" y1="150.5" x2="1129.3" y2="585.6" stroke="#111" stroke-width="1.4"/>
<line x1="1145.7" y1="150.5" x2="1145.7" y2="585.6" stroke="#111" stroke-width="1.4"/>
<line x1="1128.6" y1="151.2" x2="1146.4" y2="151.2" stroke="#222" stroke-width="1.8"/>
<line x1="1128.6" y1="161.9" x2="1146.4" y2="161.9" stroke="#111" stroke-width="2.4"/>
<line x1="1128.6" y1="218.0" x2="1146.4" y2="218.0" stroke="#1a1a1a" stroke-width="2.2"/>
<line x1="1128.6" y1="254.0" x2="1146.4" y2="254.0" stroke="#333" stroke-width="1.4"/>
<rect x="1153.0" y="150.5" width="17.8" height="11.9" fill="#ffffff" stroke="none" stroke-width="0"/>
<rect x="1153.0" y="162.4" width="17.8" height="42.9" fill="#f1f1f1" stroke="none" stroke-width="0"/>
<rect x="1153.0" y="205.3" width="17.8" height="57.7" fill="#d6d6d6" stroke="none" stroke-width="0"/>
<rect x="1153.0" y="263.0" width="17.8" height="51.2" fill="#888888" stroke="none" stroke-width="0"/>
<rect x="1153.0" y="314.2" width="17.8" height="90.9" fill="#474747" stroke="none" stroke-width="0"/>
<rect x="1153.0" y="405.1" width="17.8" height="180.5" fill="#0f0f0f" stroke="none" stroke-width="0"/>
<line x1="1153.5" y1="150.5" x2="1153.5" y2="263.0" stroke="#8a8a8a" stroke-width="1.0"/>
<line x1="1170.3" y1="150.5" x2="1170.3" y2="263.0" stroke="#8a8a8a" stroke-width="1.0"/>
<line x1="1153.0" y1="151.2" x2="1170.8" y2="151.2" stroke="#222" stroke-width="1.8"/>
<line x1="1153.0" y1="162.4" x2="1170.8" y2="162.4" stroke="#111" stroke-width="2.4"/>
<line x1="1153.0" y1="205.3" x2="1170.8" y2="205.3" stroke="#1a1a1a" stroke-width="2.2"/>
<line x1="1153.0" y1="263.0" x2="1170.8" y2="263.0" stroke="#333" stroke-width="1.4"/>
<rect x="1177.4" y="150.5" width="17.8" height="9.5" fill="#ffffff" stroke="none" stroke-width="0"/>
<rect x="1177.4" y="160.0" width="17.8" height="58.0" fill="#f1f1f1" stroke="none" stroke-width="0"/>
<rect x="1177.4" y="218.0" width="17.8" height="35.3" fill="#d6d6d6" stroke="none" stroke-width="0"/>
<rect x="1177.4" y="253.3" width="17.8" height="60.9" fill="#888888" stroke="none" stroke-width="0"/>
<rect x="1177.4" y="314.2" width="17.8" height="132.3" fill="#474747" stroke="none" stroke-width="0"/>
<rect x="1177.4" y="446.5" width="17.8" height="139.1" fill="#0f0f0f" stroke="none" stroke-width="0"/>
<line x1="1178.1" y1="150.5" x2="1178.1" y2="585.6" stroke="#111" stroke-width="1.4"/>
<line x1="1194.5" y1="150.5" x2="1194.5" y2="585.6" stroke="#111" stroke-width="1.4"/>
<line x1="1177.4" y1="151.2" x2="1195.2" y2="151.2" stroke="#222" stroke-width="1.8"/>
<line x1="1177.4" y1="160.0" x2="1195.2" y2="160.0" stroke="#111" stroke-width="2.4"/>
<line x1="1177.4" y1="218.0" x2="1195.2" y2="218.0" stroke="#1a1a1a" stroke-width="2.2"/>
<line x1="1177.4" y1="253.3" x2="1195.2" y2="253.3" stroke="#333" stroke-width="1.4"/>
<rect x="1202.0" y="150.5" width="17.8" height="11.9" fill="#ffffff" stroke="none" stroke-width="0"/>
<rect x="1202.0" y="162.4" width="17.8" height="47.8" fill="#f1f1f1" stroke="none" stroke-width="0"/>
<rect x="1202.0" y="210.2" width="17.8" height="50.4" fill="#d6d6d6" stroke="none" stroke-width="0"/>
<rect x="1202.0" y="260.6" width="17.8" height="51.1" fill="#888888" stroke="none" stroke-width="0"/>
<rect x="1202.0" y="311.7" width="17.8" height="99.0" fill="#474747" stroke="none" stroke-width="0"/>
<rect x="1202.0" y="410.7" width="17.8" height="174.9" fill="#0f0f0f" stroke="none" stroke-width="0"/>
<line x1="1203.3" y1="150.5" x2="1203.3" y2="585.6" stroke="#111" stroke-width="2.6"/>
<line x1="1218.5" y1="150.5" x2="1218.5" y2="585.6" stroke="#111" stroke-width="2.6"/>
<line x1="1202.0" y1="151.2" x2="1219.8" y2="151.2" stroke="#222" stroke-width="1.8"/>
<line x1="1202.0" y1="162.4" x2="1219.8" y2="162.4" stroke="#111" stroke-width="2.4"/>
<line x1="1202.0" y1="210.2" x2="1219.8" y2="210.2" stroke="#1a1a1a" stroke-width="2.2"/>
<line x1="1202.0" y1="260.6" x2="1219.8" y2="260.6" stroke="#333" stroke-width="1.4"/>
<rect x="1226.3" y="150.5" width="17.8" height="13.9" fill="#ffffff" stroke="none" stroke-width="0"/>
<rect x="1226.3" y="164.4" width="17.8" height="47.5" fill="#f1f1f1" stroke="none" stroke-width="0"/>
<rect x="1226.3" y="211.9" width="17.8" height="51.9" fill="#d6d6d6" stroke="none" stroke-width="0"/>
<rect x="1226.3" y="263.8" width="17.8" height="41.8" fill="#888888" stroke="none" stroke-width="0"/>
<rect x="1226.3" y="305.6" width="17.8" height="96.3" fill="#474747" stroke="none" stroke-width="0"/>
<rect x="1226.3" y="401.9" width="17.8" height="183.7" fill="#0f0f0f" stroke="none" stroke-width="0"/>
<line x1="1227.0" y1="150.5" x2="1227.0" y2="585.6" stroke="#111" stroke-width="1.4"/>
<line x1="1243.4" y1="150.5" x2="1243.4" y2="585.6" stroke="#111" stroke-width="1.4"/>
<line x1="1226.3" y1="151.2" x2="1244.1" y2="151.2" stroke="#222" stroke-width="1.8"/>
<line x1="1226.3" y1="164.4" x2="1244.1" y2="164.4" stroke="#111" stroke-width="2.4"/>
<line x1="1226.3" y1="211.9" x2="1244.1" y2="211.9" stroke="#1a1a1a" stroke-width="2.2"/>
<line x1="1226.3" y1="263.8" x2="1244.1" y2="263.8" stroke="#333" stroke-width="1.4"/>
<rect x="1250.4" y="150.5" width="17.8" height="11.9" fill="#ffffff" stroke="none" stroke-width="0"/>
<rect x="1250.4" y="162.4" width="17.8" height="49.5" fill="#f1f1f1" stroke="none" stroke-width="0"/>
<rect x="1250.4" y="211.9" width="17.8" height="51.1" fill="#d6d6d6" stroke="none" stroke-width="0"/>
<rect x="1250.4" y="263.0" width="17.8" height="51.2" fill="#888888" stroke="none" stroke-width="0"/>
<rect x="1250.4" y="314.2" width="17.8" height="105.5" fill="#474747" stroke="none" stroke-width="0"/>
<rect x="1250.4" y="419.7" width="17.8" height="165.9" fill="#0f0f0f" stroke="none" stroke-width="0"/>
<line x1="1250.9" y1="150.5" x2="1250.9" y2="263.0" stroke="#8a8a8a" stroke-width="1.0"/>
<line x1="1267.7" y1="150.5" x2="1267.7" y2="263.0" stroke="#8a8a8a" stroke-width="1.0"/>
<line x1="1250.4" y1="151.2" x2="1268.2" y2="151.2" stroke="#222" stroke-width="1.8"/>
<line x1="1250.4" y1="162.4" x2="1268.2" y2="162.4" stroke="#111" stroke-width="2.4"/>
<line x1="1250.4" y1="211.9" x2="1268.2" y2="211.9" stroke="#1a1a1a" stroke-width="2.2"/>
<line x1="1250.4" y1="263.0" x2="1268.2" y2="263.0" stroke="#333" stroke-width="1.4"/>
<rect x="1275.0" y="150.5" width="17.8" height="13.9" fill="#ffffff" stroke="none" stroke-width="0"/>
<rect x="1275.0" y="164.4" width="17.8" height="59.6" fill="#f1f1f1" stroke="none" stroke-width="0"/>
<rect x="1275.0" y="224.0" width="17.8" height="42.2" fill="#d6d6d6" stroke="none" stroke-width="0"/>
<rect x="1275.0" y="266.2" width="17.8" height="55.3" fill="#888888" stroke="none" stroke-width="0"/>
<rect x="1275.0" y="321.5" width="17.8" height="122.5" fill="#474747" stroke="none" stroke-width="0"/>
<rect x="1275.0" y="444.0" width="17.8" height="141.6" fill="#0f0f0f" stroke="none" stroke-width="0"/>
<line x1="1275.7" y1="150.5" x2="1275.7" y2="585.6" stroke="#111" stroke-width="1.4"/>
<line x1="1292.1" y1="150.5" x2="1292.1" y2="585.6" stroke="#111" stroke-width="1.4"/>
<line x1="1275.0" y1="321.5" x2="1292.8" y2="321.5" stroke="#111" stroke-width="2.0"/>
<line x1="1275.0" y1="151.2" x2="1292.8" y2="151.2" stroke="#222" stroke-width="1.8"/>
<line x1="1275.0" y1="164.4" x2="1292.8" y2="164.4" stroke="#111" stroke-width="2.4"/>
<line x1="1275.0" y1="224.0" x2="1292.8" y2="224.0" stroke="#1a1a1a" stroke-width="2.2"/>
<line x1="1275.0" y1="266.2" x2="1292.8" y2="266.2" stroke="#333" stroke-width="1.4"/>
<rect x="1298.6" y="150.5" width="17.8" height="9.0" fill="#ffffff" stroke="none" stroke-width="0"/>
<rect x="1298.6" y="159.5" width="17.8" height="38.5" fill="#f1f1f1" stroke="none" stroke-width="0"/>
<rect x="1298.6" y="198.0" width="17.8" height="62.6" fill="#d6d6d6" stroke="none" stroke-width="0"/>
<rect x="1298.6" y="260.6" width="17.8" height="45.5" fill="#888888" stroke="none" stroke-width="0"/>
<rect x="1298.6" y="306.1" width="17.8" height="97.3" fill="#474747" stroke="none" stroke-width="0"/>
<rect x="1298.6" y="403.4" width="17.8" height="182.2" fill="#0f0f0f" stroke="none" stroke-width="0"/>
<line x1="1299.9" y1="150.5" x2="1299.9" y2="585.6" stroke="#111" stroke-width="2.6"/>
<line x1="1315.8" y1="150.5" x2="1315.8" y2="585.6" stroke="#111" stroke-width="1.2"/>
<line x1="1298.6" y1="306.1" x2="1316.4" y2="306.1" stroke="#111" stroke-width="2.0"/>
<line x1="1298.6" y1="151.2" x2="1316.4" y2="151.2" stroke="#222" stroke-width="1.8"/>
<line x1="1298.6" y1="159.5" x2="1316.4" y2="159.5" stroke="#111" stroke-width="2.4"/>
<line x1="1298.6" y1="198.0" x2="1316.4" y2="198.0" stroke="#1a1a1a" stroke-width="2.2"/>
<line x1="1298.6" y1="260.6" x2="1316.4" y2="260.6" stroke="#333" stroke-width="1.4"/>
<rect x="1323.3" y="150.5" width="17.8" height="14.3" fill="#ffffff" stroke="none" stroke-width="0"/>
<rect x="1323.3" y="164.8" width="17.8" height="38.1" fill="#f1f1f1" stroke="none" stroke-width="0"/>
<rect x="1323.3" y="202.9" width="17.8" height="35.0" fill="#d6d6d6" stroke="none" stroke-width="0"/>
<rect x="1323.3" y="237.9" width="17.8" height="36.1" fill="#888888" stroke="none" stroke-width="0"/>
<rect x="1323.3" y="274.0" width="17.8" height="91.4" fill="#474747" stroke="none" stroke-width="0"/>
<rect x="1323.3" y="365.4" width="17.8" height="220.2" fill="#0f0f0f" stroke="none" stroke-width="0"/>
<line x1="1323.8" y1="150.5" x2="1323.8" y2="237.9" stroke="#8a8a8a" stroke-width="1.0"/>
<line x1="1340.6" y1="150.5" x2="1340.6" y2="237.9" stroke="#8a8a8a" stroke-width="1.0"/>
<line x1="1323.3" y1="151.2" x2="1341.1" y2="151.2" stroke="#222" stroke-width="1.8"/>
<line x1="1323.3" y1="164.8" x2="1341.1" y2="164.8" stroke="#111" stroke-width="2.4"/>
<line x1="1323.3" y1="202.9" x2="1341.1" y2="202.9" stroke="#1a1a1a" stroke-width="2.2"/>
<line x1="1323.3" y1="237.9" x2="1341.1" y2="237.9" stroke="#333" stroke-width="1.4"/>
<rect x="1348.0" y="150.5" width="17.8" height="11.9" fill="#ffffff" stroke="none" stroke-width="0"/>
<rect x="1348.0" y="162.4" width="17.8" height="40.5" fill="#f1f1f1" stroke="none" stroke-width="0"/>
<rect x="1348.0" y="202.9" width="17.8" height="57.7" fill="#d6d6d6" stroke="none" stroke-width="0"/>
<rect x="1348.0" y="260.6" width="17.8" height="42.6" fill="#888888" stroke="none" stroke-width="0"/>
<rect x="1348.0" y="303.2" width="17.8" height="98.2" fill="#474747" stroke="none" stroke-width="0"/>
<rect x="1348.0" y="401.4" width="17.8" height="184.2" fill="#0f0f0f" stroke="none" stroke-width="0"/>
<line x1="1348.6" y1="150.5" x2="1348.6" y2="585.6" stroke="#111" stroke-width="1.2"/>
<line x1="1364.5" y1="150.5" x2="1364.5" y2="585.6" stroke="#111" stroke-width="2.6"/>
<line x1="1348.0" y1="303.2" x2="1365.8" y2="303.2" stroke="#111" stroke-width="2.0"/>
<line x1="1348.0" y1="151.2" x2="1365.8" y2="151.2" stroke="#222" stroke-width="1.8"/>
<line x1="1348.0" y1="162.4" x2="1365.8" y2="162.4" stroke="#111" stroke-width="2.4"/>
<line x1="1348.0" y1="202.9" x2="1365.8" y2="202.9" stroke="#1a1a1a" stroke-width="2.2"/>
<line x1="1348.0" y1="260.6" x2="1365.8" y2="260.6" stroke="#333" stroke-width="1.4"/>
<rect x="1372.2" y="150.5" width="17.8" height="11.9" fill="#ffffff" stroke="none" stroke-width="0"/>
<rect x="1372.2" y="162.4" width="17.8" height="42.9" fill="#f1f1f1" stroke="none" stroke-width="0"/>
<rect x="1372.2" y="205.3" width="17.8" height="48.0" fill="#d6d6d6" stroke="none" stroke-width="0"/>
<rect x="1372.2" y="253.3" width="17.8" height="42.6" fill="#888888" stroke="none" stroke-width="0"/>
<rect x="1372.2" y="295.9" width="17.8" height="93.3" fill="#474747" stroke="none" stroke-width="0"/>
<rect x="1372.2" y="389.2" width="17.8" height="196.4" fill="#0f0f0f" stroke="none" stroke-width="0"/>
<line x1="1372.7" y1="150.5" x2="1372.7" y2="253.3" stroke="#8a8a8a" stroke-width="1.0"/>
<line x1="1389.5" y1="150.5" x2="1389.5" y2="253.3" stroke="#8a8a8a" stroke-width="1.0"/>
<line x1="1372.2" y1="295.9" x2="1390.0" y2="295.9" stroke="#111" stroke-width="2.0"/>
<line x1="1372.2" y1="151.2" x2="1390.0" y2="151.2" stroke="#222" stroke-width="1.8"/>
<line x1="1372.2" y1="162.4" x2="1390.0" y2="162.4" stroke="#111" stroke-width="2.4"/>
<line x1="1372.2" y1="205.3" x2="1390.0" y2="205.3" stroke="#1a1a1a" stroke-width="2.2"/>
<line x1="1372.2" y1="253.3" x2="1390.0" y2="253.3" stroke="#333" stroke-width="1.4"/>
<line x1="807.6" y1="585.6" x2="1391.0" y2="585.6" stroke="#000" stroke-width="2.2"/>
<text transform="translate(823.9,600.2) rotate(-90)" font-size="21.8" text-anchor="end" stroke="#000" stroke-width="0.7" textLength="56.7" lengthAdjust="spacingAndGlyphs">Clonal</text>
<text transform="translate(848.5,599.0) rotate(-90)" font-size="21.8" text-anchor="end" stroke="#000" stroke-width="0.7" letter-spacing="0.95">R<tspan dx="3.8">ecombinant</tspan></text>
<text transform="translate(873.2,597.8) rotate(-90)" font-size="21.8" text-anchor="end" stroke="#000" stroke-width="0.7" textLength="67.5" lengthAdjust="spacing">C lonal</text>
<text transform="translate(896.9,599.0) rotate(-90)" font-size="21.8" text-anchor="end" stroke="#000" stroke-width="0.7" letter-spacing="0.95">R<tspan dx="3.8">ecombinant</tspan></text>
<text transform="translate(921.5,597.8) rotate(-90)" font-size="21.8" text-anchor="end" stroke="#000" stroke-width="0.7" textLength="67.5" lengthAdjust="spacing">C lonal</text>
<text transform="translate(945.7,599.0) rotate(-90)" font-size="21.8" text-anchor="end" stroke="#000" stroke-width="0.7" letter-spacing="0.95">R<tspan dx="3.8">ecombinant</tspan></text>
<text transform="translate(969.8,597.8) rotate(-90)" font-size="21.8" text-anchor="end" stroke="#000" stroke-width="0.7" textLength="67.5" lengthAdjust="spacing">C lonal</text>
<text transform="translate(994.9,599.0) rotate(-90)" font-size="21.8" text-anchor="end" stroke="#000" stroke-width="0.7" letter-spacing="0.95">R<tspan dx="3.8">ecombinant</tspan></text>
<text transform="translate(1019.1,597.8) rotate(-90)" font-size="21.8" text-anchor="end" stroke="#000" stroke-width="0.7" textLength="67.5" lengthAdjust="spacing">C lonal</text>
<text transform="translate(1043.4,599.0) rotate(-90)" font-size="21.8" text-anchor="end" stroke="#000" stroke-width="0.7" letter-spacing="0.95">R<tspan dx="3.8">ecombinant</tspan></text>
<text transform="translate(1066.3,597.8) rotate(-90)" font-size="21.8" text-anchor="end" stroke="#000" stroke-width="0.7" textLength="67.5" lengthAdjust="spacing">C lonal</text>
<text transform="translate(1090.5,599.0) rotate(-90)" font-size="21.8" text-anchor="end" stroke="#000" stroke-width="0.7" letter-spacing="0.95">R<tspan dx="3.8">ecombinant</tspan></text>
<text transform="translate(1114.9,597.8) rotate(-90)" font-size="21.8" text-anchor="end" stroke="#000" stroke-width="0.7" textLength="67.5" lengthAdjust="spacing">C lonal</text>
<text transform="translate(1138.5,599.0) rotate(-90)" font-size="21.8" text-anchor="end" stroke="#000" stroke-width="0.7" letter-spacing="0.95">R<tspan dx="3.8">ecombinant</tspan></text>
<text transform="translate(1162.9,597.8) rotate(-90)" font-size="21.8" text-anchor="end" stroke="#000" stroke-width="0.7" textLength="67.5" lengthAdjust="spacing">C lonal</text>
<text transform="translate(1187.3,599.0) rotate(-90)" font-size="21.8" text-anchor="end" stroke="#000" stroke-width="0.7" letter-spacing="0.95">R<tspan dx="3.8">ecombinant</tspan></text>
<text transform="translate(1211.9,597.8) rotate(-90)" font-size="21.8" text-anchor="end" stroke="#000" stroke-width="0.7" textLength="67.5" lengthAdjust="spacing">C lonal</text>
<text transform="translate(1236.2,599.0) rotate(-90)" font-size="21.8" text-anchor="end" stroke="#000" stroke-width="0.7" letter-spacing="0.95">R<tspan dx="3.8">ecombinant</tspan></text>
<text transform="translate(1260.3,597.8) rotate(-90)" font-size="21.8" text-anchor="end" stroke="#000" stroke-width="0.7" textLength="67.5" lengthAdjust="spacing">C lonal</text>
<text transform="translate(1284.9,599.0) rotate(-90)" font-size="21.8" text-anchor="end" stroke="#000" stroke-width="0.7" letter-spacing="0.95">R<tspan dx="3.8">ecombinant</tspan></text>
<text transform="translate(1308.5,597.8) rotate(-90)" font-size="21.8" text-anchor="end" stroke="#000" stroke-width="0.7" textLength="67.5" lengthAdjust="spacing">C lonal</text>
<text transform="translate(1333.2,599.0) rotate(-90)" font-size="21.8" text-anchor="end" stroke="#000" stroke-width="0.7" letter-spacing="0.95">R<tspan dx="3.8">ecombinant</tspan></text>
<text transform="translate(1357.9,597.8) rotate(-90)" font-size="21.8" text-anchor="end" stroke="#000" stroke-width="0.7" textLength="67.5" lengthAdjust="spacing">C lonal</text>
<text transform="translate(1382.1,599.0) rotate(-90)" font-size="21.8" text-anchor="end" stroke="#000" stroke-width="0.7" letter-spacing="0.95">R<tspan dx="3.8">ecombinant</tspan></text>
<text transform="translate(837.0,795.3) scale(1.0,1.2)" font-size="28.2" text-anchor="middle" fill="#000" stroke="#000" stroke-width="0.5">D1</text>
<text transform="translate(887.5,795.3) scale(1.0,1.2)" font-size="28.2" text-anchor="middle" fill="#000" stroke="#000" stroke-width="0.5">D2</text>
<text transform="translate(936.7,795.3) scale(1.0,1.2)" font-size="28.2" text-anchor="middle" fill="#000" stroke="#000" stroke-width="0.5">D3</text>
<text transform="translate(985.0,795.3) scale(1.0,1.2)" font-size="28.2" text-anchor="middle" fill="#000" stroke="#000" stroke-width="0.5">D1</text>
<text transform="translate(1036.6,795.3) scale(1.0,1.2)" font-size="28.2" text-anchor="middle" fill="#000" stroke="#000" stroke-width="0.5">D2</text>
<text transform="translate(1085.2,795.3) scale(1.0,1.2)" font-size="28.2" text-anchor="middle" fill="#000" stroke="#000" stroke-width="0.5">D3</text>
<text transform="translate(1132.9,795.3) scale(1.0,1.2)" font-size="28.2" text-anchor="middle" fill="#000" stroke="#000" stroke-width="0.5">D1</text>
<text transform="translate(1184.4,795.3) scale(1.0,1.2)" font-size="28.2" text-anchor="middle" fill="#000" stroke="#000" stroke-width="0.5">D2</text>
<text transform="translate(1233.2,795.3) scale(1.0,1.2)" font-size="28.2" text-anchor="middle" fill="#000" stroke="#000" stroke-width="0.5">D3</text>
<text transform="translate(1279.9,795.3) scale(1.0,1.2)" font-size="28.2" text-anchor="middle" fill="#000" stroke="#000" stroke-width="0.5">D1</text>
<text transform="translate(1330.8,795.3) scale(1.0,1.2)" font-size="28.2" text-anchor="middle" fill="#000" stroke="#000" stroke-width="0.5">D2</text>
<text transform="translate(1380.2,795.3) scale(1.0,1.2)" font-size="28.2" text-anchor="middle" fill="#000" stroke="#000" stroke-width="0.5">D3</text>
<rect x="800.0" y="755.0" width="598.0" height="19.8" fill="#fff" stroke="none" stroke-width="0"/>
<text transform="translate(888.5,845.2) scale(1.0,1.19)" font-size="27.2" text-anchor="middle" fill="#000" stroke="#000" stroke-width="0.4">N1</text>
<text transform="translate(1036.6,845.2) scale(1.0,1.19)" font-size="27.2" text-anchor="middle" fill="#000" stroke="#000" stroke-width="0.4">N2</text>
<text transform="translate(1181.4,845.2) scale(1.0,1.19)" font-size="27.2" text-anchor="middle" fill="#000" stroke="#000" stroke-width="0.4">N1</text>
<text transform="translate(1329.7,845.2) scale(1.0,1.19)" font-size="27.2" text-anchor="middle" fill="#000" stroke="#000" stroke-width="0.4">N2</text>
<text transform="translate(965.2,882.4) scale(1.0,1.03)" font-size="30.8" text-anchor="middle" fill="#000" stroke="#000" stroke-width="0.4">10 °C</text>
<text transform="translate(1252.6,882.4) scale(1.0,1.03)" font-size="30.8" text-anchor="middle" fill="#000" stroke="#000" stroke-width="0.4">15 °C</text>
</svg>
</body></html>
